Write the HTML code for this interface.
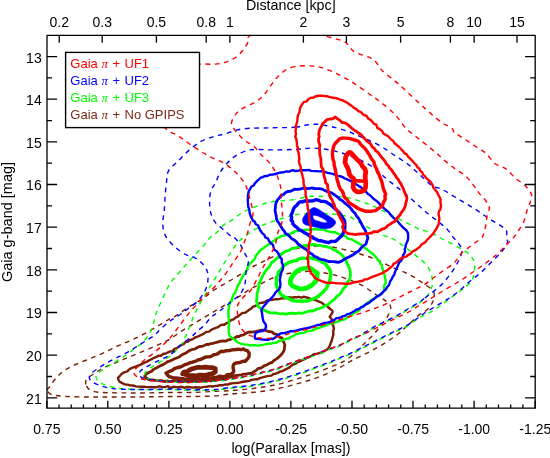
<!DOCTYPE html>
<html><head><meta charset="utf-8"><title>Gaia g-band vs log(Parallax)</title>
<style>html,body{margin:0;padding:0;background:#fff}svg{display:block}text{font-family:"Liberation Sans",sans-serif;fill:#000}</style></head><body>
<svg width="550" height="458" viewBox="0 0 550 458" style="will-change:transform">
<rect width="550" height="458" fill="#fff"/>
<defs><clipPath id="pc"><rect x="47.0" y="35.4" width="488.2" height="372.8"/></clipPath></defs>
<g clip-path="url(#pc)" fill="none" stroke-linejoin="round" stroke-linecap="butt">
<g stroke="#7a1e04">
<path d="M47.3 390.2C46.9 388.9 48.0 388.9 49.5 386.8C51.0 384.7 53.7 380.6 56.4 377.7C59.1 374.8 62.1 372.0 65.5 369.7C68.9 367.4 72.6 365.9 76.8 364.0C81.0 362.1 86.0 360.3 90.5 358.4C95.0 356.5 99.6 354.8 104.1 352.7C108.6 350.6 113.2 348.0 117.7 345.9C122.2 343.8 126.9 342.3 131.4 340.2C136.0 338.1 140.5 335.8 145.0 333.4C149.5 330.9 154.4 327.9 158.6 325.5C162.8 323.1 167.0 320.4 170.0 318.7C173.0 317.0 173.8 317.2 176.8 315.3C179.8 313.4 184.0 310.0 188.2 307.3C192.4 304.6 197.2 302.4 201.8 299.4C206.4 296.4 210.9 292.1 215.5 289.1C220.1 286.1 224.6 283.9 229.1 281.2C233.6 278.5 239.2 275.4 242.7 273.2C246.2 271.0 247.1 269.9 250.0 268.2C252.9 266.5 256.6 264.9 260.0 263.2C263.4 261.5 266.4 259.8 270.1 258.1C273.8 256.4 278.1 254.6 282.1 253.1C286.1 251.6 290.2 250.2 294.2 249.1C298.2 248.0 302.2 247.2 306.2 246.7C310.2 246.2 314.3 246.1 318.3 246.1C322.3 246.1 326.3 246.2 330.3 246.7C334.3 247.2 338.4 248.2 342.4 249.1C346.4 250.0 350.9 251.1 354.4 252.1C357.9 253.1 359.5 253.8 363.2 255.0C366.9 256.2 372.2 257.7 376.8 259.6C381.4 261.5 385.9 264.3 390.5 266.4C395.1 268.5 400.3 270.4 404.1 272.1C407.9 273.8 410.6 275.1 413.2 276.6C415.8 278.1 417.7 279.7 420.0 281.2C422.3 282.7 424.5 284.0 426.8 285.7C429.1 287.4 432.5 289.1 433.6 291.4C434.7 293.7 434.2 296.9 433.6 299.4C433.0 301.9 431.7 304.1 430.2 306.2C428.7 308.3 426.2 310.6 424.5 311.9C422.8 313.2 423.0 311.7 420.0 314.1C417.0 316.5 410.2 323.1 406.4 326.5C402.6 329.9 400.7 331.8 397.3 334.5C393.9 337.2 390.4 339.7 385.9 342.5C381.3 345.3 375.7 348.5 370.0 351.5C364.3 354.5 356.9 357.9 351.8 360.6C346.7 363.3 344.9 365.0 339.1 367.8C333.4 370.6 324.6 374.9 317.3 377.6C310.0 380.3 302.8 382.2 295.5 384.2C288.2 386.2 280.9 388.2 273.6 389.6C266.3 391.0 259.1 391.8 251.8 392.5C244.5 393.2 236.1 393.4 230.0 394.0C223.9 394.6 221.7 395.5 215.5 395.9C209.3 396.3 200.3 396.4 192.7 396.5C185.1 396.6 179.5 396.4 170.0 396.5C160.5 396.6 145.4 396.9 135.9 397.0C126.4 397.1 120.8 397.0 113.2 397.0C105.6 397.0 98.1 397.1 90.5 397.0C82.9 396.9 74.2 396.9 67.7 396.5C61.2 396.1 55.2 395.8 51.8 394.7C48.4 393.6 47.7 391.5 47.3 390.2Z" stroke-width="1.4" stroke-dasharray="4.8 4.5" stroke-dashoffset="0.00"/>
<path d="M85.9 384.5C85.3 382.6 85.5 380.7 87.0 378.8C88.5 376.9 92.2 375.0 95.0 373.1C97.8 371.2 100.3 369.4 104.1 367.5C107.9 365.6 113.2 363.7 117.7 361.8C122.2 359.9 126.9 358.0 131.4 356.1C136.0 354.2 140.5 352.3 145.0 350.4C149.5 348.5 154.4 346.6 158.6 344.7C162.8 342.8 166.2 341.2 170.0 339.0C173.8 336.8 177.6 333.6 181.4 331.2C185.2 328.8 188.9 326.7 192.7 324.4C196.5 322.1 200.3 319.8 204.1 317.5C207.9 315.2 211.7 313.0 215.5 310.7C219.3 308.4 223.0 306.2 226.8 303.9C230.6 301.6 234.3 299.5 238.2 297.1C242.1 294.7 246.4 291.5 250.0 289.3C253.6 287.1 256.6 285.9 260.0 284.2C263.4 282.5 266.8 280.7 270.1 279.2C273.5 277.7 276.8 276.2 280.1 275.2C283.5 274.2 286.5 273.8 290.2 273.2C293.9 272.6 298.2 271.9 302.2 271.6C306.2 271.3 310.3 271.3 314.3 271.6C318.3 271.9 322.3 272.4 326.3 273.2C330.3 274.0 334.4 275.0 338.4 276.2C342.4 277.4 346.3 278.6 350.4 280.2C354.5 281.8 359.2 283.8 363.2 286.0C367.2 288.2 371.1 291.5 374.5 293.7C377.9 295.9 380.9 297.3 383.6 299.4C386.3 301.5 389.7 303.5 390.5 306.2C391.3 308.9 389.7 312.3 388.2 315.3C386.7 318.3 383.7 321.4 381.4 324.4C379.1 327.4 376.8 330.9 374.5 333.5C372.2 336.1 369.6 338.4 367.7 340.3C365.8 342.2 365.5 342.4 363.2 344.7C360.9 346.9 357.1 351.1 354.1 353.8C351.1 356.5 347.5 359.0 345.0 360.6C342.5 362.2 343.7 361.6 339.1 363.5C334.5 365.4 324.6 369.6 317.3 372.2C310.0 374.8 302.8 377.2 295.5 379.4C288.2 381.6 280.9 383.8 273.6 385.3C266.3 386.8 259.1 387.7 251.8 388.6C244.5 389.5 236.1 390.2 230.0 390.7C223.9 391.1 221.7 391.0 215.5 391.3C209.3 391.6 200.3 392.3 192.7 392.5C185.1 392.7 177.6 392.4 170.0 392.5C162.4 392.6 154.9 392.8 147.3 392.9C139.7 393.0 132.1 393.0 124.5 392.9C116.9 392.8 107.5 392.9 101.8 392.5C96.1 392.1 93.2 391.5 90.5 390.2C87.8 388.9 86.5 386.4 85.9 384.5Z" stroke-width="1.4" stroke-dasharray="4.8 4.5" stroke-dashoffset="0.00"/>
<path d="M118.6 380.2L118.1 377.9L120.0 375.7L121.5 374.0L124.2 372.4L127.4 371.4L128.8 369.8L131.1 368.3L133.2 367.3L136.2 366.5L137.9 365.7L140.3 364.9L142.9 363.4L145.2 362.4L147.0 361.6L149.2 360.4L151.9 359.0L154.1 357.8L156.5 356.9L159.0 355.7L160.9 355.8L163.6 353.8L166.0 353.5L167.9 352.3L170.2 351.5L172.6 351.1L174.3 348.9L177.0 348.1L179.4 346.1L181.6 344.9L183.6 344.1L185.8 341.7L187.7 341.8L190.2 340.0L192.8 339.1L195.0 337.5L197.6 336.7L199.7 335.6L201.4 334.8L204.0 333.6L206.2 331.9L209.0 331.6L210.7 330.3L213.2 328.8L215.7 327.8L218.1 327.1L219.8 325.7L222.3 324.7L224.3 324.7L226.2 323.3L229.0 322.2L231.0 320.2L233.6 319.4L235.8 317.4L238.3 316.3L240.0 314.8L242.6 312.9L244.8 312.9L247.3 311.2L248.9 310.1L251.6 308.2L253.2 306.7L255.7 305.8L257.7 304.0L260.2 303.0L262.4 302.8L265.5 301.6L267.3 300.5L270.1 300.1L272.8 299.8L275.1 299.2L276.9 299.2L280.1 298.9L282.4 298.0L284.6 298.4L286.7 298.1L288.8 297.1L291.9 297.7L294.0 297.3L296.4 297.3L298.9 296.9L301.5 297.7L303.4 296.7L305.7 297.1L308.4 298.0L311.1 299.0L313.7 299.6L316.2 300.3L318.3 301.3L321.3 302.5L324.1 304.6L326.9 305.8L328.1 307.3L330.5 309.2L332.3 310.7L332.7 312.2L331.6 313.9L329.7 316.7L331.2 318.5L332.3 320.9L332.1 323.5L333.2 325.6L333.9 328.7L333.1 331.5L333.4 334.6L332.5 337.6L331.8 340.6L330.8 342.6L329.9 345.7L328.6 347.7L327.2 349.5L325.3 350.5L322.8 352.1L319.8 353.0L317.4 353.7L314.3 354.1L312.5 355.0L311.3 356.2L309.3 356.8L306.8 358.0L304.5 359.2L301.7 360.5L300.1 361.4L297.7 362.0L295.8 363.7L293.0 364.5L290.9 366.1L289.2 367.6L287.0 368.7L284.6 369.9L282.2 371.3L280.1 371.6L278.3 372.6L275.6 373.7L273.5 374.0L271.4 375.6L267.7 376.1L265.3 376.7L262.4 377.4L260.5 377.8L257.2 379.3L254.8 379.4L251.5 379.9L249.3 380.9L246.6 381.3L243.4 381.8L240.6 382.3L238.9 382.7L235.6 383.0L233.3 383.1L229.8 383.7L227.9 384.6L225.4 384.4L223.0 385.2L219.9 385.3L217.5 385.7L215.8 385.9L212.5 386.5L209.0 386.1L206.9 386.8L204.2 386.9L200.8 387.7L198.7 387.5L195.4 387.3L193.0 387.6L190.1 387.3L186.9 387.0L184.4 387.9L181.1 386.7L178.6 387.3L176.6 387.1L173.5 386.8L170.2 388.0L168.0 386.1L165.0 387.1L162.0 386.9L159.6 386.3L156.3 387.2L154.3 387.2L151.4 387.0L148.9 387.1L145.8 387.0L144.4 386.8L141.1 386.8L138.5 386.6L136.0 386.4L132.9 385.5L130.0 385.4L127.8 384.6L125.1 384.5L123.4 383.7L119.9 381.9Z" stroke-width="2.4"/>
<path d="M144.6 376.3L146.2 373.9L149.4 372.2L151.4 371.4L153.7 369.2L156.3 368.0L158.9 366.5L161.1 365.4L163.1 364.6L165.5 363.1L167.6 361.7L170.4 360.8L172.2 359.9L174.6 358.8L177.2 357.8L179.4 356.9L181.3 355.2L183.5 354.0L185.7 353.1L188.8 351.0L190.5 350.1L192.4 349.5L195.2 348.8L197.8 347.3L199.6 346.5L202.2 346.3L204.2 345.5L206.4 344.5L208.7 344.5L209.6 343.8L212.8 343.3L215.5 342.7L218.3 341.9L220.6 341.2L222.9 340.9L225.8 341.2L228.0 339.9L229.7 339.6L232.6 338.5L234.3 338.2L237.0 336.5L238.9 336.7L240.9 335.3L243.6 334.9L246.7 332.8L249.3 332.0L252.0 332.1L254.9 331.7L256.4 331.4L259.5 330.6L262.7 330.2L265.4 330.4L268.3 331.5L271.9 331.9L273.8 333.6L276.7 334.4L278.0 335.1L279.6 337.3L282.1 337.8L282.4 340.5L284.0 342.6L284.9 345.1L284.5 346.8L284.4 349.3L283.7 351.3L282.0 353.8L280.2 355.7L277.6 358.1L276.1 359.1L273.6 360.7L272.5 362.1L268.8 363.6L266.4 365.1L264.7 365.5L262.7 366.9L260.9 368.0L258.4 368.3L256.0 370.5L253.8 371.7L252.2 373.0L249.6 373.3L246.4 373.8L243.2 374.2L241.2 374.9L237.7 375.3L234.6 375.7L232.5 376.6L229.7 377.4L227.3 377.3L225.2 378.9L222.2 379.0L219.8 379.4L216.7 380.0L214.2 379.3L210.9 381.0L208.1 380.3L204.8 381.6L202.4 381.0L199.2 381.3L196.8 381.6L193.7 381.2L191.0 381.6L188.7 381.8L185.9 381.7L182.3 381.6L179.0 381.0L176.5 380.8L174.0 380.8L172.7 381.1L169.6 381.7L167.6 381.0L164.3 381.5L161.5 380.6L158.7 380.7L155.4 380.4L152.9 379.8L151.7 380.1L149.1 379.7L146.3 378.0Z" stroke-width="2.8"/>
<path d="M166.0 373.0L167.7 372.4L169.6 371.3L172.2 370.4L174.3 368.7L177.8 367.5L180.3 367.0L182.5 365.9L185.1 364.6L187.6 363.8L190.4 362.7L192.6 362.1L196.0 361.0L198.4 359.8L200.6 359.6L203.4 358.1L205.8 357.0L208.6 356.9L211.2 356.3L213.8 354.6L215.7 354.5L217.9 353.6L219.4 352.4L221.3 351.3L223.9 351.5L226.1 350.7L229.3 350.6L233.0 349.7L235.9 349.5L238.4 349.2L241.1 349.7L243.8 349.0L245.2 350.2L247.4 350.7L249.2 353.3L249.0 356.8L248.0 358.1L245.3 361.3L243.7 361.1L241.5 361.8L238.3 362.8L236.3 362.9L234.0 364.0L233.1 366.2L233.2 368.8L233.8 370.9L232.8 373.0L230.1 374.9L227.5 374.5L225.3 376.4L222.9 376.6L219.9 376.1L217.0 377.1L214.6 377.5L212.0 377.9L209.4 378.0L207.1 378.6L204.6 378.0L201.2 379.2L198.7 378.7L195.9 378.8L193.6 378.9L192.1 379.1L187.6 379.4L185.6 379.4L182.9 378.6L180.0 378.4L178.6 378.3L175.2 377.9L172.8 378.0L170.8 376.9L169.0 376.7L166.9 374.3Z" stroke-width="3.4"/>
<path d="M182.5 373.9L184.0 372.0L187.2 371.6L189.3 370.1L191.8 368.9L194.3 368.3L197.2 367.4L199.3 367.3L202.1 367.5L204.8 367.1L208.1 367.4L211.9 367.6L215.3 368.5L215.3 372.0L213.9 372.8L212.0 373.8L209.8 374.0L206.9 375.1L204.2 375.4L201.3 375.2L198.8 375.1L196.6 375.9L193.4 375.7L190.5 375.7L188.1 375.6L184.6 374.0Z" stroke-width="4.7"/>
</g>
<g stroke="#00ff00">
<path d="M295.0 199.5C290.8 200.2 287.8 200.2 283.6 200.6C279.4 201.0 274.5 201.2 270.0 202.2C265.5 203.1 260.9 204.6 256.4 206.3C251.8 208.0 246.9 210.1 242.7 212.4C238.5 214.8 234.3 218.5 231.4 220.4C228.5 222.3 227.6 221.8 225.0 223.9C222.4 226.0 218.6 230.8 216.1 233.1C213.6 235.4 211.8 236.0 209.8 238.0C207.8 240.0 206.8 242.1 203.9 245.3C201.1 248.5 196.1 253.6 192.7 257.3C189.3 261.0 186.6 264.1 183.6 267.5C180.6 270.9 176.8 275.1 174.5 277.8C172.2 280.5 171.9 280.3 170.0 283.5C168.1 286.7 165.5 292.2 163.2 297.1C160.9 302.0 158.1 308.4 156.4 313.0C154.7 317.6 154.2 321.6 153.0 325.0C151.8 328.4 151.2 330.5 149.5 333.4C147.8 336.3 145.3 339.9 142.7 342.5C140.0 345.1 136.6 347.0 133.6 349.3C130.6 351.6 127.5 354.0 124.5 356.1C121.5 358.2 118.5 359.9 115.5 361.8C112.5 363.7 109.2 365.6 106.4 367.5C103.6 369.4 100.1 371.4 98.4 373.1C96.7 374.8 95.9 376.2 96.1 377.7C96.3 379.2 97.4 380.8 99.5 382.2C101.6 383.6 104.8 385.0 108.6 386.1C112.4 387.2 117.0 388.0 122.3 388.6C127.6 389.2 134.4 389.3 140.5 389.5C146.6 389.7 153.7 389.7 158.6 389.7C163.5 389.7 166.2 389.6 170.0 389.6C173.8 389.7 177.9 389.9 181.7 390.0C185.5 390.1 189.2 390.3 193.0 390.4C196.8 390.5 200.6 390.4 204.4 390.4C208.2 390.4 211.5 390.6 215.8 390.2C220.1 389.8 226.1 388.7 230.3 388.2C234.5 387.7 237.6 387.7 241.2 387.3C244.8 386.9 248.5 386.6 252.1 386.0C255.7 385.4 259.4 384.7 263.0 384.0C266.6 383.3 270.3 382.5 273.9 381.6C277.5 380.7 281.2 379.8 284.8 378.7C288.4 377.6 292.2 376.3 295.8 375.1C299.4 373.9 303.1 372.8 306.7 371.5C310.3 370.2 313.8 368.8 317.6 367.4C321.4 366.0 325.8 364.4 329.4 363.0C333.0 361.6 335.6 360.3 339.4 358.7C343.2 357.1 348.1 355.2 352.1 353.4C356.1 351.6 359.7 349.6 363.5 347.7C367.3 345.8 371.0 343.9 374.8 342.0C378.6 340.1 382.4 338.2 386.2 336.3C390.0 334.4 393.8 332.6 397.6 330.7C401.4 328.8 405.1 327.3 408.9 325.0C412.7 322.7 416.9 319.1 420.3 317.1C423.7 315.1 426.1 314.6 429.1 313.0C432.1 311.4 435.2 309.4 438.2 307.3C441.2 305.2 444.3 302.8 447.3 300.5C450.3 298.2 453.4 296.0 456.4 293.7C459.4 291.4 462.9 289.2 465.5 286.9C468.1 284.6 470.9 282.5 472.3 280.0C473.7 277.5 473.7 274.9 474.1 272.1C474.5 269.3 475.2 265.9 474.5 263.0C473.8 260.1 472.1 257.3 470.0 255.0C467.9 252.7 465.0 251.3 462.0 249.4C459.0 247.5 455.4 245.6 451.8 243.7C448.2 241.8 443.1 239.4 440.5 238.0C437.9 236.6 438.6 236.3 435.9 235.1C433.2 233.9 427.1 231.5 424.5 230.6C421.9 229.7 422.6 230.6 420.0 229.5C417.4 228.4 412.4 225.7 408.6 223.8C404.8 221.9 401.1 220.0 397.3 218.1C393.5 216.2 389.7 214.3 385.9 212.4C382.1 210.5 378.3 208.4 374.5 206.7C370.7 205.0 367.7 203.7 363.2 202.2C358.7 200.7 352.8 198.6 347.3 197.6C341.8 196.6 334.9 196.2 330.0 196.0C325.1 195.8 321.3 196.4 317.7 196.5C314.1 196.6 312.4 196.0 308.6 196.5C304.8 197.0 299.2 198.8 295.0 199.5Z" stroke-width="1.4" stroke-dasharray="4.8 4.5" stroke-dashoffset="8.59"/>
<path d="M295.0 214.8C292.4 215.4 289.7 216.2 285.9 217.3C282.1 218.4 276.5 220.1 272.3 221.5C268.1 222.9 264.7 224.1 260.9 226.0C257.1 227.9 252.5 230.9 249.5 232.9C246.5 234.9 245.0 236.0 242.7 238.0C240.4 240.0 238.2 242.0 235.9 244.8C233.6 247.6 231.4 251.4 229.1 255.0C226.8 258.6 224.6 262.6 222.3 266.4C220.0 270.2 217.8 274.0 215.5 277.8C213.2 281.6 210.9 285.3 208.6 289.1C206.3 292.9 204.1 296.5 201.8 300.5C199.5 304.5 196.9 309.0 195.0 313.0C193.1 317.0 192.0 320.6 190.5 324.4C189.0 328.2 187.5 332.3 185.9 335.7C184.3 339.1 183.7 341.6 181.0 345.0C178.3 348.4 173.7 353.1 170.0 356.1C166.3 359.1 162.0 360.8 158.6 362.9C155.2 365.0 151.8 366.9 149.5 368.6C147.2 370.3 145.6 371.6 145.0 373.1C144.4 374.6 144.6 376.6 146.1 377.7C147.6 378.8 150.1 379.4 154.1 380.0C158.1 380.6 165.5 381.1 170.0 381.5C174.5 381.9 177.3 382.2 181.0 382.3C184.7 382.4 188.1 382.4 192.0 382.4C195.9 382.4 200.3 382.4 204.3 382.2C208.3 382.0 212.0 381.6 215.8 381.3C219.6 381.0 223.3 380.7 227.1 380.2C230.9 379.7 234.3 378.9 238.5 378.2C242.7 377.4 248.0 376.6 252.1 375.7C256.2 374.8 259.4 373.9 263.0 373.0C266.6 372.1 270.3 371.2 273.9 370.1C277.5 369.0 281.2 367.5 284.8 366.2C288.4 364.9 292.2 363.3 295.8 362.0C299.4 360.7 303.1 359.5 306.7 358.2C310.3 356.9 314.0 355.7 317.6 354.3C321.2 352.9 324.9 351.4 328.5 350.0C332.1 348.6 335.5 347.9 339.4 346.2C343.3 344.5 348.1 341.7 352.1 339.7C356.1 337.7 359.7 336.3 363.5 334.2C367.3 332.1 371.0 329.4 374.8 327.3C378.6 325.2 382.4 323.6 386.2 321.7C390.0 319.8 393.8 318.1 397.6 316.0C401.4 313.9 405.1 311.5 408.9 309.2C412.7 306.9 417.1 304.7 420.3 302.3C423.5 299.9 426.1 297.4 428.0 295.0C429.9 292.6 430.6 289.9 431.4 288.0C432.1 286.1 432.5 285.8 432.5 283.5C432.5 281.2 432.3 277.4 431.4 274.4C430.4 271.4 428.7 267.9 426.8 265.3C424.9 262.7 422.6 261.3 420.0 259.0C417.4 256.7 413.9 254.0 410.9 251.6C407.9 249.2 405.0 247.1 401.8 244.8C398.6 242.5 394.2 239.4 391.6 238.0C389.0 236.6 388.8 237.5 385.9 236.3C383.0 235.1 378.3 232.5 374.5 230.6C370.7 228.7 366.6 226.8 363.2 224.9C359.8 223.0 356.8 220.6 354.1 219.2C351.5 217.8 350.5 217.1 347.3 216.3C344.1 215.5 339.6 214.8 335.0 214.3C330.4 213.8 325.5 213.6 320.0 213.5C314.5 213.4 306.0 213.8 301.8 214.0C297.6 214.2 297.6 214.2 295.0 214.8Z" stroke-width="1.4" stroke-dasharray="4.8 4.5" stroke-dashoffset="7.14"/>
<path d="M275.8 239.0L274.5 240.7L272.0 241.9L270.4 243.4L268.1 244.8L265.6 246.4L263.9 247.7L261.3 249.5L259.7 251.0L258.0 253.3L256.0 255.3L255.3 257.4L254.7 259.0L252.4 261.3L250.8 262.9L249.0 264.7L247.5 267.3L247.1 269.3L245.9 272.0L243.9 274.2L242.7 276.5L241.8 278.4L240.2 280.9L239.6 283.0L237.8 285.9L236.8 288.5L235.7 291.0L235.2 292.8L233.6 294.4L232.3 297.8L232.0 299.7L230.1 302.6L229.3 305.2L228.8 307.6L228.4 311.5L228.5 314.3L228.6 316.7L228.9 319.5L228.9 322.6L229.0 324.6L228.5 327.0L228.8 329.0L228.6 330.8L229.1 333.9L229.9 336.1L232.1 338.0L234.2 339.3L236.6 341.6L238.1 342.5L241.4 343.8L244.1 344.4L247.3 344.6L249.8 345.4L252.4 345.3L255.2 345.3L258.5 345.6L259.8 345.3L262.9 344.9L265.2 344.3L268.7 343.8L271.3 343.6L273.5 342.8L276.5 342.8L278.7 341.1L281.3 340.5L284.6 339.4L286.7 338.8L289.4 338.3L290.8 336.9L293.1 336.2L295.1 334.6L297.7 333.7L301.6 333.0L303.6 333.0L306.6 331.4L309.4 331.1L312.1 330.6L314.1 329.7L317.0 328.3L319.9 327.7L322.1 326.7L324.3 326.2L326.6 325.4L329.0 324.0L331.9 323.3L334.8 322.5L336.7 321.8L339.1 321.2L341.2 320.2L343.0 319.8L345.2 318.9L347.8 317.2L349.8 316.1L352.0 314.9L354.2 312.9L356.6 311.9L359.6 309.7L360.9 307.5L362.8 306.6L365.9 304.1L368.0 302.6L369.8 301.2L372.2 299.5L374.3 298.3L377.0 296.4L378.5 295.4L381.1 294.0L382.9 292.4L384.4 290.3L384.0 288.6L384.1 285.7L385.8 283.2L385.4 279.7L384.9 276.6L384.3 274.7L383.7 272.3L383.0 270.0L382.3 267.9L381.8 265.1L380.1 263.4L379.4 261.4L377.7 259.6L376.4 257.8L374.6 255.7L372.2 253.4L370.9 252.7L368.5 250.5L366.3 248.7L363.3 247.0L361.0 244.6L359.0 243.7L356.7 242.1L354.2 240.9L352.2 239.6L350.3 239.1L347.3 238.4L345.8 236.1L343.4 235.3L339.9 234.3L337.3 233.6L335.0 232.0L332.5 232.2L329.2 231.6L326.8 230.9L324.2 229.7L321.7 229.4L318.5 229.5L316.1 229.3L314.2 229.0L311.5 229.8L308.6 229.6L305.5 229.7L302.8 230.5L300.9 230.7L297.9 231.0L295.2 231.3L292.2 232.9L290.0 233.9L287.0 234.6L284.7 235.5L282.8 235.8L280.8 236.5L278.8 237.6Z" stroke-width="2.4"/>
<path d="M310.1 245.2L308.0 245.3L305.4 245.5L302.6 246.0L299.9 246.6L297.0 247.2L294.3 248.3L291.9 248.5L288.3 250.6L287.0 251.0L283.7 252.3L282.1 254.0L280.3 255.1L278.4 257.2L275.9 259.0L274.5 260.8L271.6 262.5L270.3 265.4L268.8 267.4L267.1 269.0L265.4 271.4L264.1 273.2L263.2 274.9L261.8 277.7L261.1 279.6L260.3 281.4L258.7 284.1L259.0 286.7L258.3 288.8L257.9 290.8L257.1 293.5L257.0 296.1L256.7 299.2L256.4 301.2L257.3 303.4L257.5 305.8L259.4 307.5L261.6 309.4L263.8 310.1L265.8 310.9L268.0 312.1L270.7 312.8L273.2 312.8L276.0 312.8L278.8 313.7L281.2 313.8L283.2 313.7L286.4 314.1L288.9 313.4L292.6 313.1L294.2 313.5L296.9 313.4L299.8 312.9L302.3 313.3L305.2 312.3L307.5 311.5L309.9 310.8L312.8 311.1L315.3 309.9L317.4 309.0L319.3 308.5L322.0 307.6L324.1 306.3L326.1 305.4L328.8 304.0L330.9 302.0L333.0 300.3L335.0 298.8L336.4 296.7L338.6 295.2L340.7 293.2L342.1 291.1L343.2 288.7L344.7 287.5L346.2 285.7L347.5 282.0L349.3 280.0L349.9 278.4L350.5 275.1L350.3 272.6L350.0 270.1L349.5 268.4L348.2 265.5L347.2 263.7L346.4 261.5L345.0 258.9L344.1 257.7L342.3 255.4L340.7 253.8L337.6 251.7L335.7 250.5L332.9 249.4L330.7 247.7L327.2 247.0L325.3 246.3L322.9 246.3L319.9 245.2L317.9 245.6L315.5 244.7L313.3 244.3Z" stroke-width="2.8"/>
<path d="M304.3 258.4L302.0 258.2L299.4 258.7L296.9 260.3L295.1 260.6L292.3 261.3L289.7 262.2L287.8 263.0L285.0 264.8L283.4 266.1L282.3 268.0L280.1 270.5L278.2 272.2L278.5 274.3L276.4 277.6L276.6 280.0L276.4 282.1L276.2 284.9L277.1 286.6L278.0 289.1L279.4 291.6L280.6 294.1L281.8 295.1L284.6 297.0L287.4 297.8L289.8 299.4L293.1 300.7L294.9 300.8L296.6 301.2L299.6 300.9L301.8 301.5L304.1 301.0L306.7 301.0L309.4 300.2L312.4 299.3L313.5 298.7L316.1 297.4L318.5 296.4L320.1 294.5L322.5 292.6L323.6 291.3L325.8 289.0L327.1 286.8L328.4 283.9L329.6 281.6L330.0 278.8L330.6 276.3L330.7 274.1L330.4 271.5L329.6 269.1L327.7 267.0L326.2 264.7L324.7 263.3L322.6 262.5L320.0 260.3L317.0 259.6L314.4 258.7L311.8 258.3L310.1 257.8L306.9 258.4Z" stroke-width="3.4"/>
<path d="M317.4 273.4L316.9 275.4L316.6 278.4L315.9 280.9L313.2 284.1L311.1 285.6L307.7 287.5L304.2 288.7L300.5 289.0L298.0 288.4L294.7 286.9L292.3 285.9L290.4 283.4L290.4 280.9L291.2 278.2L292.7 275.8L294.8 273.3L296.9 271.3L300.3 269.3L304.2 268.5L307.8 267.9L310.2 268.1L312.9 270.0L315.3 271.6Z" stroke-width="4.7"/>
</g>
<g stroke="#0000ff">
<path d="M295.0 127.3C288.9 127.8 278.7 127.5 270.0 127.8C261.3 128.1 250.2 127.9 242.7 128.9C235.2 129.9 229.9 132.5 225.0 133.8C220.1 135.1 217.1 135.5 213.1 136.8C209.1 138.1 205.0 139.1 200.9 141.4C196.8 143.7 192.4 147.3 188.6 150.6C184.8 153.9 181.2 158.0 177.9 161.3C174.6 164.6 170.7 167.1 168.8 170.4C166.9 173.7 167.2 176.8 166.6 181.1C166.0 185.4 165.5 191.3 165.1 196.4C164.7 201.5 164.6 207.1 164.2 211.7C163.8 216.3 162.4 219.8 162.7 223.9C162.9 228.0 163.7 232.3 165.7 236.1C167.7 239.9 171.6 243.7 174.9 246.8C178.2 249.9 182.6 252.8 185.6 254.5C188.6 256.2 190.5 255.5 193.2 256.9C195.9 258.3 199.4 260.5 201.8 263.0C204.2 265.5 206.6 268.7 207.5 272.1C208.4 275.5 208.1 280.1 207.5 283.5C206.9 286.9 205.8 289.5 204.1 292.5C202.4 295.5 200.0 298.9 197.3 301.6C194.7 304.3 191.2 306.2 188.2 308.5C185.2 310.8 182.1 313.2 179.1 315.3C176.1 317.4 173.0 318.8 170.0 321.0C167.0 323.2 163.6 326.4 160.9 328.8C158.2 331.2 156.8 333.5 154.1 335.6C151.4 337.7 148.0 339.4 145.0 341.3C142.0 343.2 138.9 345.1 135.9 347.0C132.9 348.9 129.8 351.0 126.8 352.7C123.8 354.4 120.7 355.7 117.7 357.2C114.7 358.7 111.6 360.1 108.6 361.8C105.6 363.5 102.3 365.6 99.5 367.5C96.7 369.4 93.3 371.4 91.6 373.1C89.9 374.8 89.1 376.2 89.3 377.7C89.5 379.2 90.6 380.8 92.7 382.2C94.8 383.6 98.4 385.0 101.8 386.1C105.2 387.2 108.3 388.0 113.2 388.6C118.1 389.2 125.4 389.4 131.4 389.5C137.5 389.6 143.1 389.6 149.5 389.5C155.9 389.4 164.7 389.0 170.0 389.0C175.3 389.0 177.6 389.2 181.4 389.3C185.2 389.4 188.9 389.6 192.7 389.7C196.5 389.8 200.3 389.7 204.1 389.7C207.9 389.7 211.2 389.9 215.5 389.5C219.8 389.1 225.8 388.0 230.0 387.5C234.2 387.0 237.3 387.0 240.9 386.6C244.5 386.2 248.2 385.9 251.8 385.3C255.4 384.8 259.1 384.0 262.7 383.3C266.3 382.6 270.0 381.8 273.6 380.9C277.2 380.0 280.9 379.1 284.5 378.0C288.1 376.9 291.9 375.6 295.5 374.4C299.1 373.2 302.8 372.1 306.4 370.8C310.0 369.5 313.5 368.1 317.3 366.7C321.1 365.3 325.5 363.8 329.1 362.3C332.7 360.9 335.3 359.6 339.1 358.0C342.9 356.4 347.8 354.5 351.8 352.7C355.8 350.9 359.4 348.9 363.2 347.0C367.0 345.1 370.7 343.2 374.5 341.3C378.3 339.4 382.1 337.5 385.9 335.6C389.7 333.7 393.5 331.9 397.3 330.0C401.1 328.1 404.8 326.6 408.6 324.3C412.4 322.0 417.4 318.3 420.0 316.4C422.6 314.5 421.9 314.7 424.5 313.0C427.1 311.3 432.1 308.5 435.9 306.2C439.7 303.9 443.5 301.9 447.3 299.4C451.1 296.9 454.8 294.4 458.6 291.4C462.4 288.4 466.2 284.4 470.0 281.2C473.8 278.0 477.6 275.5 481.4 272.1C485.2 268.7 489.3 264.1 492.7 260.7C496.1 257.3 499.3 254.6 501.8 251.6C504.3 248.6 506.7 244.8 507.5 242.5C508.3 240.2 506.6 240.0 506.4 238.0C506.2 236.0 507.5 232.8 506.4 230.6C505.2 228.4 502.5 227.0 499.5 224.9C496.5 222.8 492.0 220.6 488.2 218.1C484.4 215.6 480.6 212.6 476.8 210.1C473.0 207.6 469.3 205.6 465.5 203.3C461.7 201.0 457.9 198.8 454.1 196.5C450.3 194.2 446.5 191.6 442.7 189.7C438.9 187.8 435.2 187.6 431.4 185.1C427.6 182.6 423.8 178.3 420.0 174.9C416.2 171.5 412.8 167.9 408.6 164.7C404.4 161.5 399.5 158.6 395.0 155.6C390.5 152.6 385.9 149.2 381.4 146.5C376.8 143.8 372.2 141.8 367.7 139.7C363.1 137.6 357.5 135.4 354.1 134.0C350.7 132.6 351.1 132.3 347.3 131.1C343.5 129.9 336.3 127.7 331.4 126.6C326.5 125.5 321.9 124.6 317.7 124.3C313.5 124.0 310.2 124.5 306.4 125.0C302.6 125.5 301.1 126.8 295.0 127.3Z" stroke-width="1.4" stroke-dasharray="4.8 4.5" stroke-dashoffset="1.17"/>
<path d="M424.5 298.2C426.8 296.5 430.6 293.8 433.6 291.4C436.6 288.9 439.7 286.7 442.7 283.5C445.7 280.3 449.1 275.9 451.8 272.1C454.5 268.3 456.9 264.3 458.6 260.7C460.3 257.1 462.0 253.3 462.0 250.5C462.0 247.7 460.1 245.9 458.6 243.7C457.1 241.4 454.9 239.4 453.0 237.0C451.1 234.6 449.8 232.1 447.3 229.5C444.8 226.9 441.2 224.0 438.2 221.5C435.2 219.0 432.1 217.2 429.1 214.7C426.1 212.2 423.4 209.7 420.0 206.7C416.6 203.7 412.4 199.7 408.6 196.5C404.8 193.3 401.1 190.4 397.3 187.4C393.5 184.4 389.7 181.5 385.9 178.3C382.1 175.1 378.8 171.2 374.5 168.1C370.2 165.0 364.9 162.3 360.0 160.0C355.1 157.7 350.1 155.7 345.0 154.0C339.9 152.3 334.4 150.9 329.1 149.9C323.8 148.9 318.9 148.2 313.2 148.1C307.5 148.0 301.8 149.1 295.0 149.4C288.2 149.7 278.7 149.9 272.3 149.9C265.9 149.9 260.6 149.4 256.4 149.5C252.2 149.6 250.7 149.4 247.3 150.4C243.9 151.4 239.3 153.4 235.9 155.6C232.5 157.8 229.5 160.7 226.8 163.5C224.2 166.3 221.9 169.4 220.0 172.6C218.1 175.8 217.0 179.9 215.5 182.9C214.0 185.9 211.9 187.6 210.9 190.8C209.9 194.0 209.6 198.4 209.6 202.2C209.6 206.0 209.9 210.1 210.9 213.5C211.9 216.9 213.2 219.8 215.5 222.6C217.8 225.4 221.7 228.1 224.5 230.6C227.3 233.1 230.8 236.2 232.5 237.4C234.2 238.6 233.5 236.8 234.8 238.0C236.1 239.2 238.8 242.2 240.5 244.8C242.2 247.5 243.7 251.2 245.0 253.9C246.3 256.6 248.2 257.7 248.4 260.7C248.6 263.7 246.7 268.3 246.1 272.1C245.5 275.9 245.9 279.9 245.0 283.5C244.1 287.1 242.8 290.7 240.5 293.7C238.2 296.7 234.8 298.8 231.4 301.6C228.0 304.4 223.4 308.1 220.0 310.7C216.6 313.3 213.6 315.0 210.9 317.5C208.2 320.0 206.4 323.2 204.1 325.5C201.8 327.8 199.2 329.5 197.3 331.2C195.4 332.9 195.3 333.4 192.7 335.6C190.0 337.9 185.2 341.5 181.4 344.7C177.6 347.9 173.8 352.4 170.0 355.0C166.2 357.6 162.4 358.7 158.6 360.6C154.8 362.5 150.3 364.6 147.3 366.3C144.3 368.0 141.8 369.4 140.5 370.9C139.2 372.4 138.6 374.1 139.3 375.4C140.1 376.7 141.8 377.9 145.0 378.8C148.2 379.7 154.4 380.2 158.6 380.6C162.8 381.0 166.3 381.2 170.0 381.4C173.7 381.6 177.3 381.7 181.0 381.8C184.7 381.9 188.2 381.9 192.0 381.8C195.8 381.8 200.1 381.7 204.0 381.5C207.9 381.3 211.7 380.9 215.5 380.6C219.3 380.3 223.0 380.0 226.8 379.5C230.6 379.0 234.0 378.2 238.2 377.5C242.4 376.8 247.7 375.9 251.8 375.0C255.9 374.1 259.1 373.2 262.7 372.3C266.3 371.4 270.0 370.5 273.6 369.4C277.2 368.3 280.9 366.9 284.5 365.5C288.1 364.1 291.9 362.6 295.5 361.3C299.1 360.0 302.8 358.8 306.4 357.5C310.0 356.2 313.7 355.0 317.3 353.6C320.9 352.2 324.6 350.7 328.2 349.3C331.8 347.9 335.2 347.2 339.1 345.5C343.0 343.8 347.8 341.0 351.8 339.0C355.8 337.0 359.4 335.6 363.2 333.5C367.0 331.4 370.7 328.7 374.5 326.6C378.3 324.5 382.1 322.9 385.9 321.0C389.7 319.1 393.5 317.4 397.3 315.3C401.1 313.2 404.8 310.8 408.6 308.5C412.4 306.2 417.4 303.3 420.0 301.6C422.6 299.9 422.2 299.9 424.5 298.2Z" stroke-width="1.4" stroke-dasharray="4.8 4.5" stroke-dashoffset="8.78"/>
<path d="M295.3 171.0L292.5 170.1L289.3 171.6L286.5 171.4L283.3 172.3L281.0 172.5L278.1 173.1L275.4 174.0L272.5 174.6L269.6 174.7L267.9 175.7L264.6 176.2L262.6 177.1L260.8 177.7L259.2 179.2L256.4 181.7L255.0 183.3L253.5 185.5L251.3 186.7L250.1 188.9L248.8 191.1L248.4 193.1L248.0 195.0L247.9 197.5L247.8 199.8L247.9 202.4L248.1 204.3L248.3 206.9L249.1 208.9L249.5 211.2L249.8 213.6L250.7 216.1L252.0 218.7L252.9 220.6L254.6 221.6L255.8 224.2L258.3 225.5L259.1 228.2L260.2 230.2L262.4 233.3L264.5 235.2L265.3 237.4L267.7 238.3L269.0 240.9L270.2 242.7L273.0 244.9L273.5 247.1L274.3 249.8L276.7 251.2L278.2 253.2L279.1 255.3L280.3 257.6L281.9 259.4L281.7 262.2L282.9 265.0L283.1 267.0L282.7 269.6L281.1 272.8L280.6 274.9L280.2 277.5L279.8 279.7L280.2 282.2L280.4 284.6L280.1 287.1L278.8 289.7L277.3 290.8L275.6 292.4L274.1 294.9L272.1 297.3L269.7 299.6L267.8 301.4L266.3 303.4L264.4 305.5L262.8 307.5L261.4 309.8L262.0 313.0L262.3 315.8L262.9 319.2L263.6 321.6L265.6 324.3L266.1 326.7L265.3 328.8L262.7 331.1L260.3 331.3L258.4 331.8L255.9 332.7L254.8 335.4L254.9 338.5L256.8 338.8L259.6 339.1L262.8 339.6L265.0 339.8L268.6 339.7L270.8 338.6L272.5 339.1L275.6 337.3L277.4 335.6L280.5 333.6L281.9 333.1L284.7 333.0L287.0 332.4L290.3 331.3L293.1 331.2L295.9 330.7L298.6 330.0L301.5 329.2L304.2 328.7L306.7 328.2L308.8 327.8L311.5 327.0L314.4 326.2L317.3 325.0L319.5 324.9L321.4 324.1L324.5 322.9L327.1 322.6L329.3 322.2L331.6 321.0L334.4 320.0L336.1 318.2L339.1 318.0L341.6 316.9L343.1 316.1L345.1 315.8L347.3 314.2L349.9 313.6L351.9 312.5L354.5 310.9L356.4 309.6L358.9 308.9L361.5 307.1L362.7 306.7L365.4 304.7L368.5 303.2L370.3 301.9L371.8 300.5L374.7 298.5L376.8 296.6L379.6 295.4L382.2 293.0L384.0 291.0L386.1 289.1L386.8 287.5L388.6 285.5L389.4 284.0L390.3 281.2L391.7 279.1L392.7 276.7L394.2 274.7L394.9 272.3L395.9 269.6L397.0 267.7L397.9 265.6L399.1 262.8L401.1 260.5L402.5 258.6L403.1 255.3L404.1 253.9L405.0 251.7L404.8 248.8L405.6 247.2L405.7 244.9L406.8 242.6L407.8 240.3L408.2 237.6L408.1 235.5L408.0 233.1L406.6 230.7L405.0 229.1L403.3 227.7L401.2 225.5L399.2 223.3L397.7 221.4L395.9 219.5L393.3 217.7L391.9 216.2L389.9 213.9L388.7 212.1L386.5 210.5L384.3 208.6L382.9 207.1L380.6 205.7L379.4 203.6L377.4 201.6L375.2 199.9L373.3 198.6L371.4 196.7L370.2 195.5L367.7 193.7L366.1 191.9L365.0 190.3L362.9 189.0L360.7 187.1L358.9 186.1L356.5 184.6L354.3 182.9L352.1 181.8L349.3 180.4L346.9 179.2L344.5 178.3L342.6 177.0L340.4 176.3L337.9 175.9L335.9 175.3L333.6 174.1L330.4 173.4L327.6 172.8L324.5 171.8L321.8 171.2L319.7 171.4L316.9 171.1L314.1 171.1L311.0 170.9L308.9 169.9L306.4 170.2L302.7 170.1L299.8 170.3L298.2 170.7Z" stroke-width="2.4"/>
<path d="M294.5 189.2L292.6 190.3L290.1 191.4L287.5 191.5L285.6 192.4L283.6 194.5L281.0 195.6L279.4 197.9L277.7 199.6L276.4 202.0L275.6 204.7L275.4 207.5L275.1 210.4L275.7 213.7L276.2 215.8L276.5 218.8L277.2 220.9L278.5 222.4L280.0 224.7L281.1 226.8L282.5 229.2L284.1 230.8L285.5 233.5L287.6 234.6L289.7 236.3L291.6 238.7L294.0 239.8L296.4 241.9L298.1 244.0L300.1 245.4L302.0 246.9L304.1 248.5L306.5 249.5L308.5 251.8L310.7 253.4L312.3 254.2L314.2 256.4L316.8 257.1L318.8 258.7L321.2 259.3L324.0 259.9L326.1 260.6L328.4 261.5L331.0 261.6L333.6 261.6L336.3 262.0L338.5 262.3L340.4 261.7L342.3 260.7L344.5 259.2L347.1 257.8L349.8 256.6L352.7 255.1L355.0 253.4L355.9 252.6L358.8 251.0L360.4 248.9L361.9 247.0L363.9 245.4L365.9 244.1L366.8 241.1L367.9 238.0L367.3 235.9L366.4 233.7L365.7 231.6L365.0 229.7L363.7 228.0L362.3 225.4L361.2 223.2L359.7 220.3L358.6 218.3L356.4 216.0L355.2 213.4L352.6 210.9L351.2 208.9L349.5 206.9L347.8 205.3L346.3 204.3L343.8 202.1L342.0 200.4L339.8 199.2L338.0 197.3L335.9 195.8L333.6 194.1L331.5 192.8L329.2 192.1L326.9 191.5L324.4 190.2L322.0 189.1L319.6 188.6L318.4 188.6L315.0 188.5L311.4 188.0L308.6 188.7L306.1 188.5L303.1 188.2L300.6 189.0L297.6 189.3Z" stroke-width="2.8"/>
<path d="M313.8 200.5L312.7 200.9L309.3 201.0L306.8 201.1L304.8 200.9L302.4 201.8L299.8 202.0L298.1 203.4L296.8 205.2L294.4 207.3L293.3 209.5L292.5 212.1L291.1 215.2L291.7 217.5L291.1 220.1L292.5 221.3L292.9 223.8L295.0 226.1L297.1 227.6L298.8 229.6L301.6 230.7L302.7 231.6L305.1 233.1L307.8 234.5L309.5 236.0L312.4 236.9L313.9 238.5L316.4 239.3L318.2 240.5L321.4 240.8L323.4 241.5L325.1 241.9L328.5 242.7L330.8 241.5L333.3 241.4L335.6 241.3L337.9 239.2L340.2 237.0L341.7 235.7L342.9 234.0L343.8 231.4L344.6 229.6L344.9 227.1L344.9 224.5L344.8 223.2L344.5 220.6L343.6 219.3L342.1 216.8L340.1 213.9L338.7 212.2L336.7 210.1L334.7 208.5L332.4 206.3L330.7 204.7L328.3 203.5L326.1 201.9L323.7 201.4L320.6 201.2L318.8 200.3L316.2 199.6Z" stroke-width="3.4"/>
<path d="M313.1 207.7C311.7 208.2 309.5 210.0 307.9 211.6C306.3 213.2 304.2 215.9 303.3 217.5C302.4 219.1 302.4 220.2 302.7 221.4C303.0 222.6 303.4 223.8 305.3 224.7C307.2 225.6 310.9 226.0 313.8 226.7C316.8 227.3 320.3 228.4 323.0 228.6C325.7 228.8 328.2 228.7 330.2 228.0C332.1 227.3 333.8 225.8 334.7 224.7C335.6 223.6 335.8 222.5 335.4 221.4C335.0 220.3 333.5 219.2 332.1 218.1C330.7 217.0 328.8 216.1 326.9 214.9C325.0 213.7 322.8 212.0 321.0 210.9C319.2 209.8 317.7 208.8 316.4 208.3C315.1 207.8 314.5 207.1 313.1 207.7ZM313.1 215.5C312.6 216.1 313.1 218.5 314.1 219.5C315.1 220.5 317.3 220.9 319.0 221.4C320.7 221.9 322.9 222.6 324.3 222.7C325.7 222.8 327.4 222.6 327.2 221.9C327.0 221.2 324.7 219.5 323.0 218.5C321.3 217.5 318.8 216.3 317.1 215.8C315.5 215.3 313.6 214.9 313.1 215.5Z" fill="#0000ff" fill-rule="evenodd" stroke="#0000ff" stroke-width="0.6"/>
</g>
<g stroke="#ff0000">
<path d="M249.5 36.0C245.9 38.7 249.5 39.0 248.4 41.4C247.3 43.8 244.8 47.9 242.7 50.5C240.6 53.1 238.6 55.4 235.9 57.3C233.2 59.2 230.2 60.7 226.8 61.8C223.4 62.9 219.8 63.7 215.5 64.1C211.2 64.5 205.8 63.8 200.7 64.1C195.6 64.4 190.1 64.7 185.0 66.0C179.9 67.3 174.2 68.8 170.0 72.0C165.8 75.2 162.5 80.3 160.0 85.0C157.5 89.7 155.5 95.0 155.0 100.0C154.5 105.0 155.2 110.2 157.0 115.0C158.8 119.8 161.9 125.0 165.7 128.6C169.4 132.2 174.7 133.7 179.5 136.8C184.3 140.0 189.6 144.2 194.7 147.5C199.8 150.8 205.0 154.0 210.0 156.7C215.0 159.4 220.2 160.8 224.5 163.5C228.8 166.2 232.5 169.2 235.9 172.6C239.3 176.0 242.7 179.8 245.0 184.0C247.3 188.2 248.2 192.7 249.5 197.6C250.8 202.5 253.0 208.9 253.0 213.5C253.0 218.1 250.4 221.5 249.5 224.9C248.6 228.3 248.1 231.4 247.3 234.0C246.6 236.6 246.1 237.4 245.0 240.3C243.9 243.2 242.4 248.0 240.5 251.6C238.6 255.2 235.9 258.5 233.6 261.9C231.3 265.3 229.5 268.5 226.8 272.1C224.2 275.7 221.1 279.7 217.7 283.5C214.3 287.3 209.8 291.4 206.4 294.8C203.0 298.2 200.3 300.7 197.3 303.9C194.3 307.1 190.8 310.9 188.2 314.1C185.5 317.3 183.7 320.2 181.4 323.2C179.1 326.2 176.4 329.8 174.5 332.3C172.6 334.8 171.9 335.9 170.0 338.0C168.1 340.1 165.8 342.2 163.2 344.7C160.5 347.1 157.1 350.2 154.1 352.7C151.1 355.2 147.7 357.2 145.0 359.5C142.3 361.8 140.1 364.2 138.2 366.3C136.3 368.4 133.6 370.1 133.6 372.0C133.6 373.9 135.9 376.4 138.2 377.7C140.5 379.0 143.9 379.4 147.3 380.0C150.7 380.6 154.8 381.1 158.6 381.5C162.4 381.9 166.3 382.0 170.0 382.2C173.7 382.4 177.3 382.5 181.0 382.5C184.7 382.5 188.2 382.5 192.0 382.3C195.8 382.1 200.1 381.8 204.0 381.5C207.9 381.2 211.7 380.9 215.5 380.6C219.3 380.3 223.0 380.0 226.8 379.5C230.6 379.0 234.0 378.2 238.2 377.5C242.4 376.8 247.7 375.9 251.8 375.0C255.9 374.1 259.1 373.2 262.7 372.3C266.3 371.4 270.0 370.5 273.6 369.4C277.2 368.3 280.9 366.9 284.5 365.5C288.1 364.1 291.9 362.6 295.5 361.3C299.1 360.0 302.8 358.8 306.4 357.5C310.0 356.2 313.7 355.0 317.3 353.6C320.9 352.2 324.6 350.7 328.2 349.3C331.8 347.9 335.2 347.2 339.1 345.5C343.0 343.8 347.8 340.8 351.8 339.0C355.8 337.2 359.4 336.2 363.2 334.5C367.0 332.8 370.7 330.7 374.5 328.8C378.3 326.9 382.1 325.0 385.9 323.1C389.7 321.2 393.5 319.4 397.3 317.5C401.1 315.6 404.8 314.1 408.6 312.0C412.4 309.9 416.2 307.3 420.0 305.0C423.8 302.7 428.0 300.3 431.4 298.2C434.8 296.1 437.1 294.6 440.5 292.5C443.9 290.4 448.0 288.0 451.8 285.7C455.6 283.4 459.4 281.3 463.2 278.9C467.0 276.4 470.7 273.6 474.5 271.0C478.3 268.4 482.1 265.9 485.9 263.0C489.7 260.1 493.9 256.9 497.3 253.9C500.7 250.9 503.8 247.5 506.4 244.8C509.0 242.2 511.3 240.2 513.2 238.0C515.1 235.8 516.0 234.3 517.7 231.7C519.4 229.1 521.9 226.0 523.4 222.6C524.9 219.2 525.7 214.7 526.8 211.3C527.9 207.9 529.4 205.0 530.2 202.2C531.0 199.3 532.4 197.0 531.4 194.2C530.4 191.3 527.1 187.8 524.5 185.1C521.9 182.4 518.5 181.0 515.5 178.3C512.5 175.7 509.8 171.7 506.4 169.2C503.0 166.7 498.4 166.2 495.0 163.5C491.6 160.8 489.1 156.1 485.9 153.3C482.7 150.5 479.1 148.8 475.7 146.5C472.3 144.2 468.7 141.8 465.5 139.7C462.3 137.6 458.3 135.2 456.4 134.0C454.5 132.8 454.9 133.3 454.1 132.3C453.3 131.3 453.7 129.7 451.8 128.2C449.9 126.7 446.1 125.5 442.7 123.2C439.3 120.9 435.2 117.3 431.4 114.1C427.6 110.9 424.6 108.1 420.0 103.9C415.4 99.7 408.3 92.9 404.1 89.1C399.9 85.3 398.6 84.1 395.0 81.1C391.4 78.1 385.7 74.1 382.5 70.9C379.3 67.7 377.8 64.0 375.7 61.8C373.6 59.6 373.4 59.3 370.0 57.7C366.6 56.1 358.6 54.1 355.2 52.3C351.8 50.5 351.4 48.8 349.5 47.0C347.6 45.2 348.4 43.4 343.9 41.4C339.4 39.4 329.6 37.7 322.3 35.0C315.0 32.3 308.7 26.7 300.0 25.0C291.3 23.3 278.4 23.2 270.0 25.0C261.6 26.8 253.1 33.3 249.5 36.0Z" stroke-width="1.4" stroke-dasharray="4.8 4.5" stroke-dashoffset="2.28"/>
<path d="M295.0 66.6C290.8 67.2 288.9 67.9 285.9 69.8C282.9 71.7 279.4 74.9 276.8 77.7C274.2 80.5 272.3 83.8 270.0 86.8C267.7 89.8 265.8 93.2 263.2 95.9C260.6 98.6 257.5 100.6 254.1 102.7C250.7 104.8 245.7 106.5 242.7 108.4C239.7 110.3 237.8 111.6 235.9 114.1C234.0 116.6 231.6 120.5 231.4 123.2C231.2 125.9 233.7 128.2 234.8 130.0C235.9 131.8 236.5 132.2 238.2 134.0C239.9 135.8 242.3 138.7 245.0 140.8C247.7 142.9 251.4 144.2 254.1 146.5C256.8 148.8 258.2 151.7 260.9 154.5C263.5 157.3 267.4 160.1 270.0 163.5C272.6 166.9 275.0 170.7 276.8 174.9C278.6 179.1 280.1 183.9 280.9 188.5C281.7 193.1 281.1 198.0 281.4 202.2C281.7 206.4 282.5 209.7 282.5 213.5C282.5 217.3 282.1 221.8 281.4 224.9C280.7 228.0 279.2 228.6 278.1 232.0C277.1 235.4 276.8 240.6 275.1 245.1C273.4 249.6 270.3 255.1 268.1 259.1C265.9 263.1 264.0 265.5 262.0 269.2C260.0 272.9 258.0 277.5 256.0 281.2C254.0 284.9 252.2 288.6 250.0 291.3C247.8 294.0 245.1 295.0 243.0 297.5C240.9 300.0 238.2 302.3 237.5 306.2C236.8 310.1 237.8 316.8 238.7 320.9C239.6 325.0 240.9 328.1 243.1 330.7C245.3 333.2 248.5 334.9 251.8 336.2C255.1 337.5 259.1 338.1 262.7 338.4C266.3 338.7 270.0 338.4 273.6 337.9C277.2 337.3 280.9 336.1 284.5 335.1C288.1 334.1 291.9 332.7 295.5 331.8C299.1 330.9 302.8 330.4 306.4 329.5C310.0 328.6 313.5 327.4 317.3 326.4C321.1 325.4 325.5 324.6 329.1 323.5C332.7 322.4 335.6 321.0 339.1 319.8C342.6 318.6 346.0 317.7 350.0 316.5C354.0 315.3 359.1 313.8 363.2 312.5C367.3 311.2 370.7 309.9 374.5 308.5C378.3 307.1 382.1 305.6 385.9 303.9C389.7 302.2 393.5 300.1 397.3 298.2C401.1 296.3 404.8 294.4 408.6 292.5C412.4 290.6 417.4 288.2 420.0 286.9C422.6 285.6 422.2 286.1 424.5 284.6C426.8 283.1 430.6 280.1 433.6 277.8C436.6 275.5 439.3 273.5 442.7 271.0C446.1 268.5 451.1 265.9 454.1 263.0C457.1 260.1 457.9 256.9 460.9 253.9C463.9 250.9 468.9 247.5 472.3 244.8C475.7 242.2 479.5 239.8 481.4 238.0C483.3 236.2 482.9 236.2 483.6 234.0C484.4 231.8 485.3 227.9 485.9 224.9C486.5 221.9 486.4 218.6 487.0 215.8C487.6 213.0 489.5 210.4 489.3 207.9C489.1 205.4 487.6 203.5 485.9 201.0C484.2 198.5 481.2 195.8 479.1 193.1C477.0 190.4 475.7 187.9 473.4 185.1C471.1 182.2 468.7 178.8 465.5 176.0C462.3 173.2 457.9 170.9 454.1 168.1C450.3 165.3 445.6 161.4 442.7 159.0C439.8 156.6 440.6 156.7 437.0 153.6C433.4 150.5 426.0 144.6 420.9 140.4C415.8 136.2 410.7 133.1 406.3 128.7C401.9 124.3 399.0 118.6 394.6 114.1C390.2 109.6 384.1 105.0 380.0 101.7C375.9 98.4 374.3 97.5 370.0 94.5C365.7 91.5 359.0 86.6 354.1 83.4C349.2 80.2 345.4 78.0 340.5 75.5C335.6 73.0 329.4 70.2 324.5 68.6C319.6 67.0 315.8 66.2 310.9 65.9C306.0 65.6 299.2 65.9 295.0 66.6Z" stroke-width="1.4" stroke-dasharray="4.8 4.5" stroke-dashoffset="0.00"/>
<path d="M296.0 133.9L295.5 131.2L295.9 128.7L295.7 126.5L296.5 124.2L297.4 120.5L297.5 117.8L297.9 115.3L299.5 112.3L299.8 109.5L300.3 107.3L302.0 104.7L303.7 102.1L306.7 101.3L308.2 99.2L310.9 97.8L313.2 97.7L315.2 96.5L318.7 95.8L321.6 95.6L324.8 96.1L327.3 96.3L329.9 97.1L333.3 97.8L335.7 98.0L338.3 98.8L340.9 100.0L342.6 100.2L344.6 101.4L348.1 103.3L349.5 104.5L351.9 106.1L353.9 107.7L356.3 109.1L358.4 111.2L361.1 112.2L362.4 113.7L364.1 115.0L366.6 115.8L368.2 118.7L370.2 119.6L371.7 121.0L374.0 123.8L376.3 124.6L377.3 127.9L379.8 129.1L382.4 131.4L383.0 133.2L386.0 135.1L387.9 136.0L389.5 137.7L391.1 139.5L393.1 140.8L394.5 143.2L396.7 145.0L398.9 146.7L400.5 148.5L403.2 151.3L404.4 153.1L406.9 154.6L408.3 156.8L410.6 159.1L412.6 161.1L414.2 163.0L416.1 164.9L417.4 167.2L419.3 168.4L420.0 170.6L422.1 172.2L423.4 174.9L424.9 176.2L426.7 178.6L428.3 179.9L430.6 182.0L432.5 184.9L433.3 187.4L434.9 189.4L436.8 191.9L438.2 194.5L439.0 196.1L440.6 199.5L440.4 202.0L441.0 205.0L440.8 207.3L440.4 209.2L439.1 211.1L438.5 213.7L439.0 216.3L439.4 218.9L438.9 221.5L438.6 224.4L437.2 227.1L436.0 229.5L434.5 231.3L433.1 233.8L431.3 235.7L429.0 238.0L427.0 239.9L425.7 241.7L424.2 243.0L421.6 244.4L420.0 246.6L417.7 248.4L415.4 250.2L412.6 251.3L410.7 253.7L408.4 254.8L406.1 256.7L404.1 257.2L402.0 257.6L399.5 259.5L397.7 261.2L395.9 262.8L393.5 263.8L392.7 265.6L390.3 267.7L388.5 269.2L386.2 270.9L384.5 271.8L381.8 273.4L379.3 274.2L377.4 275.2L374.2 276.2L371.8 277.1L369.9 278.0L367.3 279.2L364.5 279.4L362.8 280.8L360.0 281.2L357.8 281.9L355.9 282.0L353.1 282.5L350.1 283.5L347.7 283.7L345.3 283.8L341.0 283.4L339.0 283.4L336.0 283.3L334.0 282.9L331.2 282.6L328.7 282.7L326.3 282.8L324.5 282.0L321.7 281.1L319.1 280.1L316.5 278.8L314.6 277.7L312.9 274.8L310.7 273.2L310.7 271.7L309.5 268.9L308.6 266.6L308.1 262.7L308.2 260.9L307.2 258.5L308.0 256.1L308.5 253.7L307.8 251.2L309.0 248.5L308.7 245.4L309.5 242.7L310.2 240.3L310.5 236.3L310.0 234.3L310.7 232.1L310.7 230.1L310.6 227.6L310.5 225.2L309.8 222.1L309.1 219.4L309.5 216.6L308.6 213.1L308.7 211.4L307.8 208.5L307.6 205.8L307.3 203.4L307.2 200.5L306.3 197.5L305.5 194.8L305.7 193.0L305.4 190.3L304.9 187.7L303.7 184.3L303.5 181.8L303.5 179.7L302.7 176.8L302.1 174.1L301.2 171.7L300.9 169.2L300.6 166.4L299.6 164.2L298.9 161.2L299.4 158.7L299.0 156.1L298.6 152.8L297.7 150.5L298.0 147.9L296.9 145.5L296.9 143.0L296.4 139.5L295.3 136.6Z" stroke-width="2.4"/>
<path d="M318.7 134.5L319.3 130.9L320.0 128.8L321.5 126.3L322.4 123.9L325.0 121.5L326.9 119.7L330.0 119.0L332.7 118.8L335.1 117.0L337.6 118.8L339.9 120.3L341.8 122.3L345.2 122.9L347.7 124.6L349.7 126.4L351.9 128.3L354.6 130.3L356.7 131.7L358.9 133.3L361.1 134.7L363.3 137.3L364.6 138.6L366.3 140.6L368.4 142.2L370.7 144.0L372.5 147.3L374.2 148.3L375.9 150.9L378.1 152.4L379.4 154.3L381.3 156.8L383.1 159.0L384.9 161.2L386.3 163.9L388.6 166.1L389.6 168.1L391.7 170.1L393.5 173.0L395.0 174.8L396.5 177.5L398.4 179.7L399.3 181.7L400.8 183.7L401.8 185.9L403.4 188.7L404.2 191.5L405.2 193.4L405.7 194.9L406.9 197.5L406.7 200.1L405.9 202.7L405.6 204.3L405.2 206.4L403.9 209.0L402.7 211.0L401.2 212.6L400.3 214.8L398.5 216.6L396.4 219.0L395.8 220.8L392.2 222.7L390.2 224.1L387.9 225.4L386.3 227.2L384.0 228.6L381.8 229.2L379.3 230.7L377.0 231.8L373.5 231.7L372.0 232.8L368.8 233.3L366.3 233.6L363.5 233.9L361.0 233.8L357.5 234.2L355.7 234.7L353.0 234.1L350.4 233.9L347.8 233.5L345.9 232.0L343.9 230.1L343.0 228.7L342.4 226.7L344.0 225.0L343.2 223.6L342.1 221.1L340.4 218.3L339.7 216.3L338.1 213.9L337.8 211.3L336.0 209.3L334.6 206.6L334.4 205.0L333.1 202.6L332.1 199.7L330.6 198.0L329.8 195.5L328.9 193.1L328.4 191.0L327.7 187.8L327.7 184.9L325.5 182.5L325.3 179.7L324.5 177.6L323.8 174.9L323.6 171.6L322.9 169.1L321.3 166.7L321.1 163.9L320.9 161.1L320.9 158.7L320.0 155.7L319.8 153.1L319.6 150.1L319.4 147.9L319.9 145.4L318.7 141.7L318.5 139.1L319.2 136.3Z" stroke-width="2.8"/>
<path d="M342.4 138.0L339.2 139.2L337.6 141.0L335.4 143.2L333.6 146.2L333.0 149.3L332.6 151.3L332.4 154.2L332.6 156.6L333.1 159.6L334.0 162.0L334.2 165.4L334.7 167.1L335.3 169.5L335.8 172.7L336.4 174.9L336.8 177.8L337.3 180.5L338.1 182.5L338.9 185.8L340.3 189.0L341.9 190.6L343.3 193.2L343.7 195.7L345.0 197.7L347.1 199.6L348.7 202.3L350.3 203.5L352.6 204.9L355.3 206.5L357.4 208.0L359.3 209.1L362.8 210.3L365.2 211.2L367.6 211.1L371.1 211.4L372.9 210.9L375.6 210.6L378.0 208.8L380.5 207.3L382.6 205.0L383.6 202.1L385.2 199.4L384.9 195.9L385.7 194.2L384.3 191.0L383.2 188.2L382.8 185.9L382.0 182.6L381.3 180.1L380.2 177.7L379.1 174.7L377.9 172.7L377.0 170.7L376.7 168.9L375.4 166.9L374.3 164.2L374.0 162.1L372.8 160.5L371.3 158.7L369.8 155.6L368.3 153.4L366.5 150.5L365.4 149.2L363.9 147.4L361.7 145.5L359.9 143.3L358.7 141.5L356.4 140.5L353.4 139.6L351.6 139.0L348.9 138.4L345.3 138.1Z" stroke-width="3.4"/>
<path d="M349.4 152.4L347.6 153.9L345.7 156.8L345.4 159.9L345.0 162.4L346.2 165.4L347.7 168.0L348.7 170.5L349.4 174.5L351.3 176.8L353.6 178.6L353.8 180.9L353.4 183.7L353.1 187.4L354.4 189.8L356.8 191.6L359.2 192.0L362.4 191.3L364.6 190.0L365.5 187.6L365.8 184.0L365.6 181.0L365.2 177.8L365.4 174.1L365.9 171.9L364.8 168.7L362.4 166.4L361.1 163.5L359.0 161.3L357.0 159.4L354.3 156.7L352.7 154.7L350.9 152.8Z" stroke-width="4.7"/>
</g>
<path d="M353.3 180.6L365.6 181.2" stroke="#ff0000" stroke-width="3.6"/>
</g>
<rect x="65.6" y="52.4" width="133.9" height="75.2" fill="#fff" stroke="#000" stroke-width="1.4"/>
<text x="70.3" y="68.3" font-size="13" style="fill:#ff0000">Gaia <tspan font-family="Liberation Serif,serif" font-style="italic" font-size="13">π</tspan><tspan dx="1.1"> +</tspan><tspan dx="0.7"> UF1</tspan></text>
<text x="70.3" y="85.3" font-size="13" style="fill:#0000ff">Gaia <tspan font-family="Liberation Serif,serif" font-style="italic" font-size="13">π</tspan><tspan dx="1.1"> +</tspan><tspan dx="0.7"> UF2</tspan></text>
<text x="70.3" y="102.3" font-size="13" style="fill:#00ff00">Gaia <tspan font-family="Liberation Serif,serif" font-style="italic" font-size="13">π</tspan><tspan dx="1.1"> +</tspan><tspan dx="0.7"> UF3</tspan></text>
<text x="70.3" y="119.3" font-size="13" style="fill:#7a2a18">Gaia <tspan font-family="Liberation Serif,serif" font-style="italic" font-size="13">π</tspan><tspan dx="1.1"> +</tspan><tspan dx="0.7"> No GPIPS</tspan></text>
<rect x="47.0" y="35.4" width="488.2" height="372.8" fill="none" stroke="#000" stroke-width="1.3" stroke-linejoin="round"/>
<path d="M46.8 408.2V400.8M59.0 408.2V404.5M71.2 408.2V404.5M83.4 408.2V404.5M95.6 408.2V404.5M107.8 408.2V400.8M120.0 408.2V404.5M132.2 408.2V404.5M144.4 408.2V404.5M156.7 408.2V404.5M168.9 408.2V400.8M181.1 408.2V404.5M193.3 408.2V404.5M205.5 408.2V404.5M217.7 408.2V404.5M229.9 408.2V400.8M242.1 408.2V404.5M254.3 408.2V404.5M266.5 408.2V404.5M278.7 408.2V404.5M290.9 408.2V400.8M303.1 408.2V404.5M315.4 408.2V404.5M327.6 408.2V404.5M339.8 408.2V404.5M352.0 408.2V400.8M364.2 408.2V404.5M376.4 408.2V404.5M388.6 408.2V404.5M400.8 408.2V404.5M413.0 408.2V400.8M425.2 408.2V404.5M437.4 408.2V404.5M449.6 408.2V404.5M461.8 408.2V404.5M474.1 408.2V400.8M486.3 408.2V404.5M498.5 408.2V404.5M510.7 408.2V404.5M522.9 408.2V404.5M535.1 408.2V400.8M59.2 35.4V42.8M102.2 35.4V42.8M156.4 35.4V42.8M206.2 35.4V42.8M229.9 35.4V42.8M303.4 35.4V42.8M346.4 35.4V42.8M400.6 35.4V42.8M450.4 35.4V42.8M474.1 35.4V42.8M517.0 35.4V42.8M47.0 56.6H57.1M535.2 56.6H525.1M47.0 77.9H52.0M535.2 77.9H530.2M47.0 99.2H57.1M535.2 99.2H525.1M47.0 120.6H52.0M535.2 120.6H530.2M47.0 141.9H57.1M535.2 141.9H525.1M47.0 163.2H52.0M535.2 163.2H530.2M47.0 184.5H57.1M535.2 184.5H525.1M47.0 205.9H52.0M535.2 205.9H530.2M47.0 227.2H57.1M535.2 227.2H525.1M47.0 248.5H52.0M535.2 248.5H530.2M47.0 269.9H57.1M535.2 269.9H525.1M47.0 291.2H52.0M535.2 291.2H530.2M47.0 312.5H57.1M535.2 312.5H525.1M47.0 333.8H52.0M535.2 333.8H530.2M47.0 355.2H57.1M535.2 355.2H525.1M47.0 376.5H52.0M535.2 376.5H530.2M47.0 397.8H57.1M535.2 397.8H525.1" fill="none" stroke="#000" stroke-width="1.3"/>
<text x="46.8" y="434" font-size="14" text-anchor="middle">0.75</text>
<text x="107.8" y="434" font-size="14" text-anchor="middle">0.50</text>
<text x="168.9" y="434" font-size="14" text-anchor="middle">0.25</text>
<text x="229.9" y="434" font-size="14" text-anchor="middle">0.00</text>
<text x="291.1" y="434" font-size="14" text-anchor="middle">-0.25</text>
<text x="352.2" y="434" font-size="14" text-anchor="middle">-0.50</text>
<text x="413.2" y="434" font-size="14" text-anchor="middle">-0.75</text>
<text x="474.2" y="434" font-size="14" text-anchor="middle">-1.00</text>
<text x="535.3" y="434" font-size="14" text-anchor="middle">-1.25</text>
<text x="59.2" y="27.3" font-size="14" text-anchor="middle">0.2</text>
<text x="102.2" y="27.3" font-size="14" text-anchor="middle">0.3</text>
<text x="156.4" y="27.3" font-size="14" text-anchor="middle">0.5</text>
<text x="206.2" y="27.3" font-size="14" text-anchor="middle">0.8</text>
<text x="229.9" y="27.3" font-size="14" text-anchor="middle">1</text>
<text x="303.4" y="27.3" font-size="14" text-anchor="middle">2</text>
<text x="346.4" y="27.3" font-size="14" text-anchor="middle">3</text>
<text x="400.6" y="27.3" font-size="14" text-anchor="middle">5</text>
<text x="450.4" y="27.3" font-size="14" text-anchor="middle">8</text>
<text x="474.1" y="27.3" font-size="14" text-anchor="middle">10</text>
<text x="517.0" y="27.3" font-size="14" text-anchor="middle">15</text>
<text x="41.7" y="62.5" font-size="14" text-anchor="end">13</text>
<text x="41.7" y="105.2" font-size="14" text-anchor="end">14</text>
<text x="41.7" y="147.8" font-size="14" text-anchor="end">15</text>
<text x="41.7" y="190.4" font-size="14" text-anchor="end">16</text>
<text x="41.7" y="233.1" font-size="14" text-anchor="end">17</text>
<text x="41.7" y="275.8" font-size="14" text-anchor="end">18</text>
<text x="41.7" y="318.4" font-size="14" text-anchor="end">19</text>
<text x="41.7" y="361.1" font-size="14" text-anchor="end">20</text>
<text x="41.7" y="403.7" font-size="14" text-anchor="end">21</text>
<text x="290.8" y="10.4" font-size="14.3" text-anchor="middle">Distance [kpc]</text>
<text x="291" y="453.2" font-size="14.3" text-anchor="middle">log(Parallax [mas])</text>
 <text transform="translate(11.5 222) rotate(-90)" font-size="14.5" text-anchor="middle">Gaia g-band [mag]</text>
</svg></body></html>
